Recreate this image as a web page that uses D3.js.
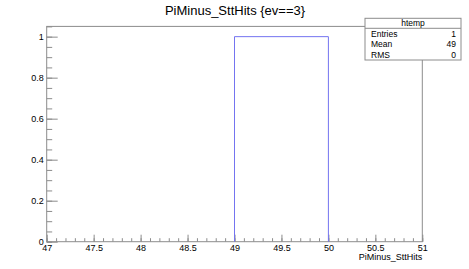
<!DOCTYPE html>
<html><head><meta charset="utf-8">
<script src="https://d3js.org/d3.v7.min.js"></script>
<style>body{margin:0;background:#fff}svg{display:block;font-family:"Liberation Sans",Arial,sans-serif}</style>
</head><body>
<script>
const title = "PiMinus_SttHits {ev==3}";
const xTitle = "PiMinus_SttHits";
const binLow = [49];
const binHigh = [50];
const binCounts = [1];
const xMajorTicks = [47, 47.5, 48, 48.5, 49, 49.5, 50, 50.5, 51];
const xTickLabels = ["47", "47.5", "48", "48.5", "49", "49.5", "50", "50.5", "51"];
const yMajorTicks = [0, 0.2, 0.4, 0.6, 0.8, 1];
const yTickLabels = ["0", "0.2", "0.4", "0.6", "0.8", "1"];
const statsTitle = "htemp";
const statNames = ["Entries", "Mean", "RMS"];
const statValues = ["1", "49", "0"];

const W = 469, H = 269;
const L = 46.7, R = 422.3, T = 26.4, B = 241.7;
const svg = d3.select("body").append("svg").attr("width", W).attr("height", H);
const x = d3.scaleLinear().domain([47, 51]).range([L, R]);
const y = d3.scaleLinear().domain([0, 1.05]).range([B, T]);
const frameCol = "#8c8c8c";

const xMinor = d3.range(47, 51.0001, 0.1).map(v => +v.toFixed(2));
const yMinor = d3.range(0, 1.0501, 0.05).map(v => +v.toFixed(2));

const gxm = svg.append("g").attr("transform", `translate(0,${B})`)
  .call(d3.axisBottom(x).tickValues(xMinor).tickSize(-3.5).tickFormat(""));
const gx = svg.append("g").attr("transform", `translate(0,${B})`)
  .call(d3.axisBottom(x).tickValues(xMajorTicks).tickSize(-7).tickPadding(3)
    .tickFormat((d, i) => xTickLabels[i]));
const gym = svg.append("g").attr("transform", `translate(${L},0)`)
  .call(d3.axisLeft(y).tickValues(yMinor).tickSize(-5.5).tickFormat(""));
const gy = svg.append("g").attr("transform", `translate(${L},0)`)
  .call(d3.axisLeft(y).tickValues(yMajorTicks).tickSize(-11).tickPadding(3)
    .tickFormat((d, i) => yTickLabels[i]));
[gxm, gx, gym, gy].forEach(g => {
  g.select(".domain").remove();
  g.selectAll("line").attr("stroke", frameCol);
  g.selectAll("text").attr("fill", "#000").attr("font-size", 9)
    .attr("font-family", "Liberation Sans, Arial, sans-serif");
});
gx.selectAll("text").attr("dy", "0.71em");

svg.append("rect").attr("x", L).attr("y", T).attr("width", R - L).attr("height", B - T)
  .attr("fill", "none").attr("stroke", frameCol).attr("stroke-width", 1);

const pts = [];
binLow.forEach((lo, i) => {
  pts.push([x(lo), y(0)], [x(lo), y(binCounts[i])], [x(binHigh[i]), y(binCounts[i])], [x(binHigh[i]), y(0)]);
});
svg.append("path").attr("d", d3.line()(pts)).attr("fill", "none")
  .attr("stroke", "#7474f0").attr("stroke-width", 1);

svg.append("text").attr("x", 235).attr("y", 15).attr("text-anchor", "middle")
  .attr("font-size", 13).text(title);
svg.append("text").attr("x", R).attr("y", 260).attr("text-anchor", "end")
  .attr("font-size", 9).text(xTitle);

const bx = 365, by = 18.3, bw = 96, bh = 41.7, hdr = 28.3;
svg.append("rect").attr("x", bx).attr("y", by).attr("width", bw).attr("height", bh)
  .attr("fill", "#fff").attr("stroke", frameCol).attr("stroke-width", 1);
svg.append("line").attr("x1", bx).attr("x2", bx + bw).attr("y1", hdr).attr("y2", hdr)
  .attr("stroke", frameCol);
svg.append("text").attr("x", bx + bw / 2).attr("y", 26).attr("text-anchor", "middle")
  .attr("font-size", 8.5).text(statsTitle);
statNames.forEach((n, i) => {
  const yy = 37 + i * 10.4;
  svg.append("text").attr("x", 371).attr("y", yy).attr("font-size", 8.5).text(n);
  svg.append("text").attr("x", 456).attr("y", yy).attr("text-anchor", "end")
    .attr("font-size", 8.5).text(statValues[i]);
});
</script>
</body></html>
